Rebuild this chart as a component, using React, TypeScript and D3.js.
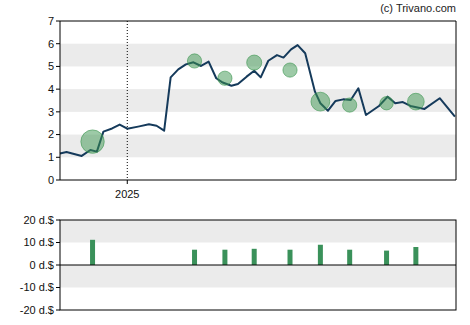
import React from "react";
import * as d3 from "d3";

const priceDates = [
  "2024-10-31","2024-11-06","2024-11-20","2024-11-28","2024-12-04","2024-12-10","2024-12-18","2024-12-25",
  "2025-01-01","2025-01-11","2025-01-21","2025-01-28","2025-02-04","2025-02-10","2025-02-17","2025-02-24",
  "2025-03-03","2025-03-10","2025-03-17","2025-03-24","2025-03-30","2025-04-07","2025-04-13","2025-04-21",
  "2025-04-28","2025-05-04","2025-05-11","2025-05-19","2025-05-25","2025-06-01","2025-06-07","2025-06-14",
  "2025-06-23","2025-06-28","2025-07-05","2025-07-12","2025-07-19","2025-07-26","2025-08-02","2025-08-09",
  "2025-08-21","2025-08-29","2025-09-05","2025-09-12","2025-09-19","2025-10-02","2025-10-16","2025-10-30",
];
const priceValues = [
  1.17,1.23,1.06,1.32,1.25,2.13,2.27,2.44,
  2.26,2.35,2.45,2.39,2.17,4.52,4.87,5.09,
  5.18,5.02,5.21,4.48,4.29,4.15,4.23,4.55,
  4.81,4.52,5.25,5.50,5.39,5.75,5.94,5.58,
  3.89,3.38,3.05,3.48,3.55,3.52,4.04,2.86,
  3.26,3.67,3.38,3.43,3.26,3.13,3.60,2.79,
];

const dividendDates = [
  "2024-11-30","2025-03-04","2025-04-01","2025-04-28","2025-05-31",
  "2025-06-28","2025-07-25","2025-08-28","2025-09-24",
];
const dividendValues = [11.2, 6.8, 6.8, 7.2, 6.8, 9.0, 6.8, 6.4, 8.0];
const markerPrices = [1.69, 5.24, 4.48, 5.17, 4.84, 3.45, 3.30, 3.38, 3.45];

const priceTicks = [0, 1, 2, 3, 4, 5, 6, 7];
const divTicks = [20, 10, 0, -10, -20];
const yearTick = "2025-01-01";
const yearLabel = "2025";
const domainStart = "2024-10-31";
const domainEnd = "2025-10-31";

const parse = d3.timeParse("%Y-%m-%d");

export default function App() {
  const W = 470, H = 325;
  const left = 60, right = 456;
  const top1 = 21, bot1 = 180;
  const top2 = 220, bot2 = 310;
  const font = "'Liberation Sans', Arial, sans-serif";

  const x = d3.scaleTime().domain([parse(domainStart)!, parse(domainEnd)!]).range([left, right]);
  const y = d3.scaleLinear().domain([0, 7]).range([bot1, top1]);
  const y2 = d3.scaleLinear().domain([-20, 20]).range([bot2, top2]);
  const r = d3.scaleLinear().domain([0, 11.2]).range([0, 11.7]);

  const pts = priceDates.map((d, i) => [x(parse(d)!), y(priceValues[i])] as [number, number]);
  const line = d3.line()(pts) || "";

  const bandColor = "#ebebeb";
  const bands1 = [[1, 2], [3, 4], [5, 6]];
  const bands2 = [[10, 20], [-10, 0]];
  const xt = x(parse(yearTick)!);

  return (
    <svg width={W} height={H} style={{ position: "absolute", left: 0, top: 0 }} fontFamily={font}>
      <rect x={0} y={0} width={W} height={H} fill="#fff" />
      <text x={456} y={12} textAnchor="end" fontSize={11} fill="#222">(c) Trivano.com</text>

      {bands1.map(([a, b], i) => (
        <rect key={i} x={left} width={right - left} y={y(b)} height={y(a) - y(b)} fill={bandColor} />
      ))}
      <line x1={xt} x2={xt} y1={top1} y2={bot1} stroke="#000" strokeWidth={1} strokeDasharray="1,2" />

      <path d={line} fill="none" stroke="#153a5b" strokeWidth={2} strokeLinejoin="round" />
      {dividendDates.map((d, i) => (
        <circle key={i} cx={x(parse(d)!)} cy={y(markerPrices[i])} r={r(dividendValues[i])}
          fill="rgba(60,150,80,0.5)" stroke="rgba(60,150,80,0.6)" strokeWidth={1} />
      ))}

      <line x1={left} x2={right} y1={top1} y2={top1} stroke="#000" />
      <line x1={right} x2={right} y1={top1} y2={bot1} stroke="#000" />
      <line x1={left} x2={left} y1={top1} y2={bot1} stroke="#000" />
      <line x1={left} x2={right} y1={bot1} y2={bot1} stroke="#000" />
      {priceTicks.map((t) => (
        <g key={t}>
          <line x1={left - 4} x2={left} y1={y(t)} y2={y(t)} stroke="#000" />
          <text x={left - 6} y={y(t)} dy="0.35em" textAnchor="end" fontSize={11} fill="#111">{t}</text>
        </g>
      ))}
      <line x1={xt} x2={xt} y1={bot1} y2={bot1 + 4} stroke="#000" />
      <text x={xt} y={bot1 + 18} textAnchor="middle" fontSize={11} fill="#111">{yearLabel}</text>

      {bands2.map(([a, b], i) => (
        <rect key={i} x={left} width={right - left} y={y2(b)} height={y2(a) - y2(b)} fill={bandColor} />
      ))}
      {dividendDates.map((d, i) => (
        <rect key={i} x={x(parse(d)!) - 2.5} width={5} y={y2(dividendValues[i])}
          height={y2(0) - y2(dividendValues[i])} fill="#3a915a" />
      ))}
      <line x1={left} x2={right} y1={y2(0)} y2={y2(0)} stroke="#000" />
      <rect x={left} y={top2} width={right - left} height={bot2 - top2} fill="none" stroke="#000" />
      {divTicks.map((t) => (
        <g key={t}>
          <line x1={left - 4} x2={left} y1={y2(t)} y2={y2(t)} stroke="#000" />
          <text x={left - 6} y={y2(t)} dy="0.35em" textAnchor="end" fontSize={11} fill="#111">{t} d.$</text>
        </g>
      ))}
    </svg>
  );
}
